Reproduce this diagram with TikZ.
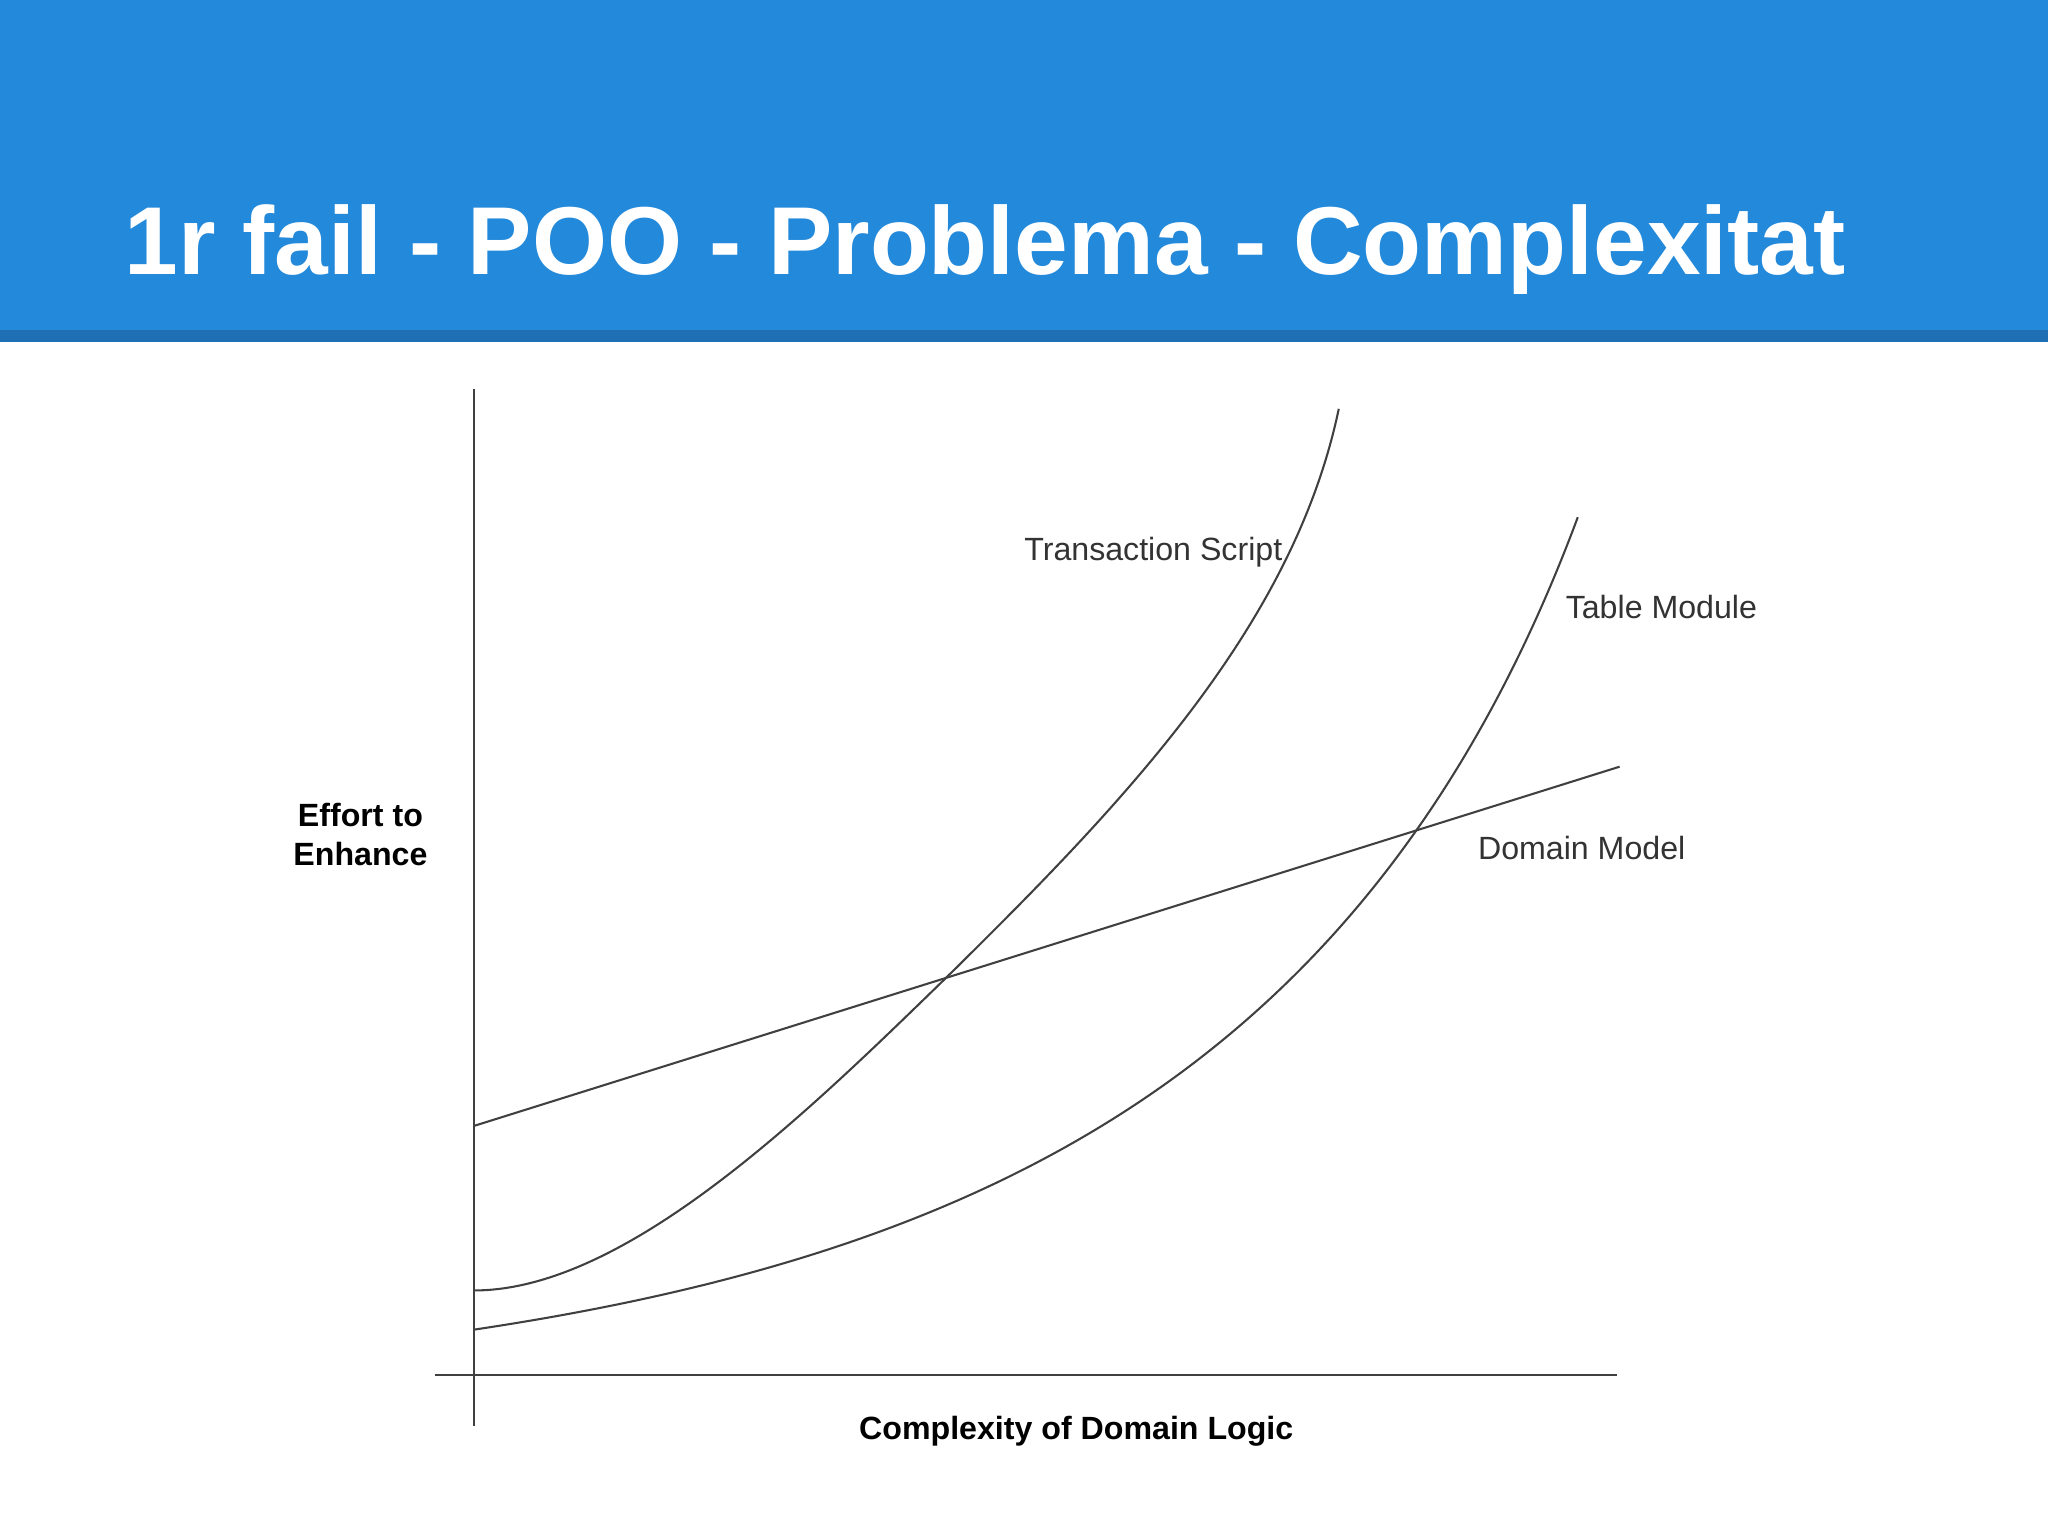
\documentclass[tikz,border=0pt]{standalone}
\usepackage{fontspec}
\setmainfont{Liberation Sans}
\begin{document}
\begin{tikzpicture}[x=0.01cm,y=-0.01cm,
  curve/.style={draw=black!75,line width=0.45pt},
  lbl/.style={font=\fontsize{7pt}{8.5pt}\selectfont,text=black!80},
  blbl/.style={font=\fontsize{7pt}{8.5pt}\selectfont\bfseries,align=center}]
\definecolor{hdr}{HTML}{2389DB}
\definecolor{hdrdark}{HTML}{1F6FB5}
\useasboundingbox (0,0) rectangle (1568,1176);
\fill[white] (0,0) rectangle (1568,1176);
\fill[hdr] (0,0) rectangle (1568,253);
\fill[hdrdark] (0,253) rectangle (1568,262);
\node[anchor=base west,inner sep=0pt,text=white,font=\fontsize{21pt}{25pt}\selectfont\bfseries] (title) at (95,210) {1r fail - POO - Problema - Complexitat};
% axes
\draw[curve] (363,298) -- (363,1092);
\draw[curve] (333,1053) -- (1238,1053);
% Domain Model
\draw[curve] (363,862) -- (1240,587);
% Transaction Script
\draw[curve] (363,988) .. controls (480,988) and (620,850) .. (725,748)
  .. controls (860,615) and (990,480) .. (1025,313);
% Table Module
\draw[curve] (363,1018) .. controls (750,960) and (1050,820) .. (1208,396);
\node[lbl] (ts) at (883,423) {Transaction Script};
\node[lbl] (tm) at (1272,465) {Table Module};
\node[lbl] (dm) at (1211,649) {Domain Model};
\node[blbl] (ye) at (276,639) {Effort to\\Enhance};
\node[blbl] (xl) at (824,1096) {Complexity of Domain Logic};
\end{tikzpicture}
\end{document}
